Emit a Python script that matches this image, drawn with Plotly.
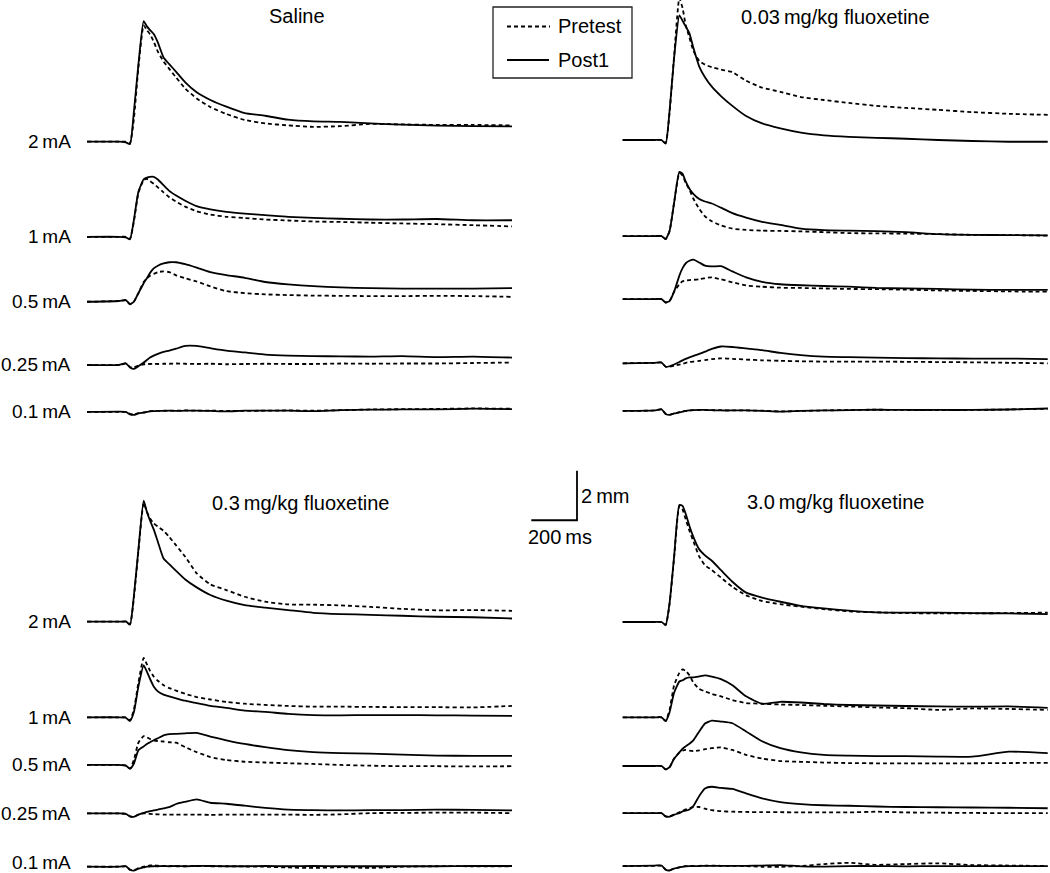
import plotly.graph_objects as go

W, H = 1050, 873

# ---- data -------------------------------------------------------------
# sample times (ms) shared by every trace
time_ms = [0, 140, 170, 188, 205, 225, 248, 262, 276, 292, 310, 335, 360, 390,
           430, 480, 540, 610, 690, 780, 880, 990, 1110, 1240, 1380, 1530, 1690, 1860]

intensities = ["2\u2009mA", "1\u2009mA", "0.5\u2009mA", "0.25\u2009mA", "0.1\u2009mA"]
conditions = ["Saline", "0.03\u2009mg/kg fluoxetine", "0.3\u2009mg/kg fluoxetine", "3.0\u2009mg/kg fluoxetine"]

# response amplitude (mm), one row per intensity (2, 1, 0.5, 0.25, 0.1 mA)
saline_pretest = [
    [0, 0, 0, -0.05, 0.9, 3.0, 4.7, 4.52, 4.35, 4.05, 3.65, 3.25, 2.95, 2.6, 2.15, 1.75, 1.4, 1.12, 0.88, 0.74, 0.66, 0.6, 0.63, 0.72, 0.70, 0.68, 0.68, 0.66],
    [0, 0, 0, -0.08, 0.6, 1.78, 2.3, 2.35, 2.25, 2.15, 2.0, 1.8, 1.6, 1.42, 1.22, 1.03, 0.9, 0.81, 0.76, 0.7, 0.66, 0.62, 0.6, 0.57, 0.54, 0.51, 0.47, 0.42],
    [0, 0.03, 0.05, -0.1, 0.0, 0.35, 0.8, 0.95, 1.05, 1.13, 1.2, 1.23, 1.2, 1.07, 0.95, 0.82, 0.62, 0.43, 0.35, 0.3, 0.27, 0.25, 0.24, 0.23, 0.23, 0.24, 0.23, 0.2],
    [0, 0, 0.05, -0.08, -0.1, -0.02, 0.03, 0.05, 0.04, 0.05, 0.04, 0.05, 0.05, 0.06, 0.05, 0.04, 0.05, 0.03, 0.04, 0.05, 0.04, 0.04, 0.06, 0.05, 0.06, 0.06, 0.08, 0.1],
    [0, 0, 0, -0.08, -0.1, -0.05, -0.02, 0.01, 0.03, 0.04, 0.04, 0.05, 0.05, 0.05, 0.06, 0.05, 0.05, 0.04, 0.04, 0.05, 0.06, 0.05, 0.07, 0.1, 0.11, 0.12, 0.14, 0.13],
]
saline_post1 = [
    [0, 0, -0.03, -0.1, 1.2, 3.13, 4.88, 4.67, 4.52, 4.36, 4.02, 3.41, 3.14, 2.83, 2.40, 2.0, 1.69, 1.42, 1.16, 1.05, 0.89, 0.82, 0.80, 0.74, 0.69, 0.65, 0.63, 0.62],
    [0, 0, -0.02, -0.1, 0.67, 1.82, 2.33, 2.4, 2.43, 2.43, 2.32, 2.09, 1.86, 1.67, 1.46, 1.24, 1.11, 1.01, 0.94, 0.88, 0.81, 0.77, 0.73, 0.70, 0.70, 0.72, 0.67, 0.67],
    [0, 0.03, 0.07, -0.1, 0.0, 0.35, 0.75, 0.95, 1.17, 1.35, 1.46, 1.55, 1.6, 1.6, 1.52, 1.38, 1.2, 1.08, 0.97, 0.8, 0.7, 0.63, 0.58, 0.55, 0.53, 0.53, 0.53, 0.55],
    [0, 0, 0.07, -0.1, -0.16, -0.05, 0.1, 0.2, 0.3, 0.38, 0.45, 0.53, 0.58, 0.66, 0.77, 0.77, 0.68, 0.58, 0.51, 0.42, 0.38, 0.36, 0.35, 0.34, 0.36, 0.32, 0.34, 0.3],
    [0, 0.01, 0.0, -0.1, -0.12, -0.06, -0.03, 0.0, 0.02, 0.03, 0.04, 0.04, 0.05, 0.04, 0.05, 0.05, 0.04, 0.02, 0.05, 0.05, 0.05, 0.03, 0.07, 0.09, 0.1, 0.1, 0.13, 0.11],
]
flx003_pretest = [
    [0, 0, 0, -0.12, 1.1, 3.4, 5.75, 5.34, 4.65, 4.15, 3.6, 3.2, 3.05, 2.95, 2.85, 2.75, 2.4, 2.12, 1.95, 1.74, 1.62, 1.5, 1.38, 1.3, 1.22, 1.13, 1.06, 1.02],
    [0, 0, 0, -0.12, 0.2, 1.35, 2.55, 2.45, 2.15, 1.88, 1.5, 1.1, 0.8, 0.6, 0.43, 0.3, 0.25, 0.22, 0.21, 0.19, 0.16, 0.12, 0.11, 0.1, 0.08, 0.05, 0.04, 0.02],
    [0, 0, 0, -0.14, -0.08, 0.3, 0.6, 0.72, 0.75, 0.77, 0.78, 0.8, 0.85, 0.88, 0.8, 0.68, 0.55, 0.5, 0.46, 0.45, 0.43, 0.41, 0.4, 0.38, 0.35, 0.33, 0.31, 0.3],
    [0, 0.02, 0.03, -0.14, -0.14, -0.1, -0.05, -0.02, 0.02, 0.05, 0.07, 0.1, 0.13, 0.17, 0.2, 0.18, 0.15, 0.12, 0.1, 0.08, 0.07, 0.07, 0.07, 0.06, 0.05, 0.04, 0.02, 0.0],
    [0, 0.02, 0.06, -0.12, -0.15, -0.1, -0.05, -0.02, 0.0, 0.02, 0.03, 0.03, 0.04, 0.03, 0.03, 0.02, 0.02, 0.01, -0.02, 0.0, 0.02, 0.04, 0.05, 0.04, 0.03, 0.04, 0.06, 0.09],
]
flx003_post1 = [
    [0, 0, 0, -0.15, 1.17, 3.33, 5.05, 4.83, 4.59, 4.32, 3.71, 2.97, 2.54, 2.16, 1.78, 1.38, 0.97, 0.67, 0.47, 0.3, 0.19, 0.13, 0.09, 0.05, 0.0, -0.04, -0.07, -0.07],
    [0, 0, 0, -0.12, 0.2, 1.35, 2.6, 2.52, 2.2, 1.92, 1.7, 1.5, 1.4, 1.32, 1.15, 0.93, 0.75, 0.58, 0.45, 0.3, 0.24, 0.22, 0.2, 0.16, 0.08, 0.05, 0.04, 0.03],
    [0, 0, 0, -0.14, -0.08, 0.3, 0.95, 1.25, 1.45, 1.55, 1.6, 1.48, 1.35, 1.32, 1.33, 1.12, 0.88, 0.7, 0.6, 0.56, 0.53, 0.5, 0.45, 0.43, 0.41, 0.38, 0.37, 0.37],
    [0, 0.02, 0.03, -0.14, -0.12, -0.05, 0.05, 0.12, 0.18, 0.24, 0.3, 0.38, 0.47, 0.58, 0.68, 0.66, 0.6, 0.53, 0.42, 0.33, 0.27, 0.25, 0.23, 0.21, 0.2, 0.19, 0.19, 0.17],
    [0, 0.02, 0.07, -0.12, -0.16, -0.1, -0.06, -0.03, 0.0, 0.02, 0.03, 0.04, 0.04, 0.03, 0.02, 0.02, 0.02, 0.0, -0.03, 0.0, 0.02, 0.03, 0.05, 0.04, 0.04, 0.04, 0.06, 0.1],
]
flx03_pretest = [
    [0, 0, 0, -0.1, 0.95, 2.85, 4.8, 4.45, 4.18, 3.98, 3.85, 3.68, 3.43, 3.09, 2.63, 1.96, 1.51, 1.28, 1.01, 0.81, 0.7, 0.69, 0.66, 0.6, 0.52, 0.46, 0.47, 0.44],
    [0, 0, 0, -0.12, 0.3, 1.4, 2.4, 2.15, 1.88, 1.65, 1.48, 1.3, 1.18, 1.08, 0.95, 0.82, 0.72, 0.62, 0.55, 0.5, 0.46, 0.43, 0.43, 0.42, 0.41, 0.41, 0.4, 0.46],
    [0, 0, -0.03, -0.15, 0.2, 0.9, 1.17, 1.12, 1.05, 1.0, 0.97, 0.95, 0.92, 0.9, 0.72, 0.52, 0.32, 0.2, 0.13, 0.1, 0.07, 0.04, 0.0, -0.03, -0.05, -0.05, -0.06, -0.05],
    [0, 0, -0.02, -0.12, -0.14, -0.05, 0.0, 0.0, -0.02, -0.03, -0.04, -0.05, -0.05, -0.05, -0.05, -0.05, -0.06, -0.05, -0.05, -0.05, -0.05, -0.06, -0.04, 0.01, 0.02, 0.03, 0.03, 0.01],
    [0, 0, 0.01, -0.12, -0.14, -0.06, 0.0, 0.03, 0.05, 0.06, 0.04, 0.03, 0.03, 0.02, 0.02, 0.03, 0.02, 0.02, 0.01, 0.0, -0.03, -0.05, -0.02, -0.05, 0.0, 0.02, 0.02, 0.02],
]
flx03_post1 = [
    [0, 0, 0.01, -0.12, 1.03, 2.93, 4.9, 4.45, 4.09, 3.74, 3.24, 2.56, 2.33, 2.06, 1.71, 1.39, 1.08, 0.85, 0.67, 0.57, 0.47, 0.36, 0.31, 0.28, 0.24, 0.2, 0.18, 0.13],
    [0, 0, -0.02, -0.15, 0.2, 1.25, 2.1, 1.85, 1.55, 1.25, 1.05, 0.92, 0.85, 0.77, 0.67, 0.57, 0.46, 0.38, 0.27, 0.22, 0.14, 0.09, 0.08, 0.09, 0.09, 0.08, 0.07, 0.06],
    [0, 0, -0.03, -0.15, 0.05, 0.6, 0.75, 0.85, 0.92, 1.0, 1.08, 1.2, 1.25, 1.26, 1.28, 1.3, 1.15, 1.0, 0.85, 0.72, 0.6, 0.52, 0.48, 0.46, 0.42, 0.38, 0.37, 0.37],
    [0, 0, -0.02, -0.12, -0.14, -0.05, 0.02, 0.06, 0.09, 0.12, 0.15, 0.2, 0.25, 0.38, 0.47, 0.57, 0.43, 0.39, 0.31, 0.22, 0.15, 0.13, 0.12, 0.13, 0.13, 0.15, 0.14, 0.12],
    [0, 0, 0.02, -0.12, -0.16, -0.08, -0.03, 0.0, 0.01, 0.02, 0.02, 0.03, 0.02, 0.03, 0.02, 0.03, 0.03, 0.02, 0.02, 0.03, 0.02, 0.03, 0.02, 0.02, 0.02, 0.02, 0.03, 0.03],
]
flx30_pretest = [
    [0, 0, 0, -0.12, 0.72, 2.6, 4.7, 4.55, 4.15, 3.7, 3.25, 2.65, 2.3, 2.1, 1.8, 1.42, 1.08, 0.85, 0.72, 0.62, 0.52, 0.43, 0.39, 0.36, 0.35, 0.35, 0.36, 0.38],
    [0, 0, 0, -0.15, 0.3, 1.3, 1.8, 1.94, 1.88, 1.7, 1.4, 1.15, 1.05, 0.95, 0.85, 0.7, 0.58, 0.55, 0.52, 0.5, 0.47, 0.44, 0.4, 0.37, 0.3, 0.36, 0.34, 0.3],
    [0, 0, 0, -0.14, -0.05, 0.3, 0.55, 0.62, 0.65, 0.62, 0.6, 0.63, 0.68, 0.72, 0.75, 0.65, 0.45, 0.3, 0.2, 0.17, 0.14, 0.12, 0.11, 0.11, 0.11, 0.11, 0.12, 0.13],
    [0, 0, 0, -0.13, -0.14, -0.06, 0.04, 0.1, 0.15, 0.2, 0.25, 0.25, 0.18, 0.12, 0.08, 0.06, 0.05, 0.04, 0.04, 0.03, 0.03, 0.03, 0.06, 0.03, 0.02, 0.01, 0.0, 0.0],
    [0, 0.01, 0.01, -0.14, -0.17, -0.1, -0.05, -0.02, 0.0, 0.0, 0.01, 0.01, 0.02, 0.02, 0.01, 0.01, 0.0, -0.03, -0.03, 0.0, 0.08, 0.13, 0.05, 0.08, 0.11, 0.04, 0.02, 0.0],
]
flx30_post1 = [
    [0, 0, 0, -0.12, 0.76, 2.65, 4.74, 4.7, 4.37, 3.89, 3.43, 2.94, 2.7, 2.48, 2.1, 1.63, 1.19, 0.99, 0.82, 0.65, 0.55, 0.46, 0.39, 0.38, 0.38, 0.36, 0.35, 0.32],
    [0, 0, 0, -0.15, 0.2, 1.0, 1.45, 1.5, 1.58, 1.62, 1.62, 1.66, 1.7, 1.65, 1.55, 1.3, 0.85, 0.55, 0.63, 0.6, 0.54, 0.5, 0.48, 0.46, 0.44, 0.43, 0.44, 0.38],
    [0, 0, 0, -0.14, -0.05, 0.3, 0.55, 0.7, 0.8, 0.9, 1.05, 1.4, 1.72, 1.84, 1.8, 1.73, 1.4, 1.0, 0.72, 0.55, 0.45, 0.42, 0.4, 0.4, 0.38, 0.38, 0.58, 0.52],
    [0, 0, 0, -0.13, -0.14, -0.06, 0.0, 0.07, 0.1, 0.15, 0.3, 0.7, 1.0, 1.07, 1.02, 0.98, 0.8, 0.6, 0.45, 0.37, 0.32, 0.3, 0.27, 0.25, 0.24, 0.23, 0.22, 0.2],
    [0, 0.02, 0.02, -0.15, -0.18, -0.1, -0.05, -0.03, -0.01, 0.0, 0.0, 0.0, 0.01, 0.01, 0.01, 0.01, 0.01, 0.02, 0.04, -0.01, -0.02, 0.0, 0.0, -0.01, 0.0, 0.0, 0.0, 0.0],
]

scale_ms = 200   # time scale bar
scale_mm = 2     # amplitude scale bar

# ---- layout (pixels) --------------------------------------------------
PX_PER_MS = 0.2285
PX_PER_MM = 24.7
FONT = "Liberation Sans, Arial, sans-serif"

# pixel box of each panel, and pixel position of t=0 / 2 mA baseline
panel_box = [(0, 0, 525, 436), (525, 0, 1050, 436), (0, 436, 525, 873), (525, 436, 1050, 873)]
panel_origin = [(87, 141.7), (622.7, 140), (87, 621.7), (622.7, 622)]
# vertical offset (mm) of each intensity row from the 2 mA baseline
row_offset = [
    [0, -3.85, -6.48, -9.04, -10.94],
    [0, -3.89, -6.44, -9.04, -10.97],
    [0, -3.87, -5.80, -7.76, -9.92],
    [0, -3.86, -5.83, -7.74, -9.88],
]
title_pos = [(297, 16), (835, 17), (300, 503), (835, 502)]

pretest = [saline_pretest, flx003_pretest, flx03_pretest, flx30_pretest]
post1 = [saline_post1, flx003_post1, flx03_post1, flx30_post1]

fig = go.Figure()
layout = dict(width=W, height=H, margin=dict(l=0, r=0, t=0, b=0),
              plot_bgcolor="white", paper_bgcolor="white", showlegend=False,
              font=dict(family=FONT, color="black"))
annotations = []

for p in range(4):
    x0p, y0p, x1p, y1p = panel_box[p]
    ox, oy = panel_origin[p]
    sfx = "" if p == 0 else str(p + 1)
    layout["xaxis" + sfx] = dict(domain=[x0p / W, x1p / W],
                                 range=[(x0p - ox) / PX_PER_MS, (x1p - ox) / PX_PER_MS],
                                 visible=False, anchor="y" + sfx, fixedrange=True)
    layout["yaxis" + sfx] = dict(domain=[1 - y1p / H, 1 - y0p / H],
                                 range=[(oy - y1p) / PX_PER_MM, (oy - y0p) / PX_PER_MM],
                                 visible=False, anchor="x" + sfx, fixedrange=True)
    for r in range(5):
        off = row_offset[p][r]
        for vals, dash in ((pretest[p][r], "4px,3px"), (post1[p][r], "solid")):
            fig.add_trace(go.Scatter(
                x=time_ms, y=[v + off for v in vals],
                xaxis="x" + sfx, yaxis="y" + sfx, mode="lines",
                line=dict(color="black", width=1.8, dash=dash, shape="spline", smoothing=0.5),
                hoverinfo="skip"))
        if p in (0, 2):
            # the lowest label of the bottom panel sits at the page edge; lift it a little
            lift = 4 if (p == 2 and r == 4) else 0
            annotations.append(dict(x=73 / W, xref="paper", y=off, yref="y" + sfx,
                                    text=intensities[r], showarrow=False, yshift=lift,
                                    xanchor="right", yanchor="middle", font=dict(size=19)))
    tx, ty = title_pos[p]
    annotations.append(dict(x=tx / W, y=1 - ty / H, xref="paper", yref="paper",
                            text=conditions[p], showarrow=False,
                            xanchor="center", yanchor="middle", font=dict(size=20)))

# scale bar in the bottom-right panel
bar_t0 = -400
bar_y = 4.12
fig.add_trace(go.Scatter(
    x=[bar_t0, bar_t0 + scale_ms, bar_t0 + scale_ms],
    y=[bar_y, bar_y, bar_y + scale_mm],
    xaxis="x4", yaxis="y4", mode="lines",
    line=dict(color="black", width=1.8), hoverinfo="skip"))
annotations.append(dict(x=bar_t0 + scale_ms, y=bar_y + scale_mm / 2, xref="x4", yref="y4",
                        text=f"{scale_mm}\u2009mm", showarrow=False, xanchor="left",
                        yanchor="middle", xshift=2, font=dict(size=20)))
annotations.append(dict(x=bar_t0, y=bar_y, xref="x4", yref="y4",
                        text=f"{scale_ms}\u2009ms", showarrow=False, xanchor="left",
                        yanchor="top", xshift=-5, yshift=-4, font=dict(size=20)))

# legend box
shapes = [
    dict(type="rect", xref="paper", yref="paper", x0=493 / W, x1=632 / W,
         y0=1 - 78 / H, y1=1 - 7 / H, line=dict(color="#222", width=1.3)),
    dict(type="line", xref="paper", yref="paper", x0=507 / W, x1=550 / W,
         y0=1 - 26.5 / H, y1=1 - 26.5 / H, line=dict(color="black", width=1.8, dash="4px,3px")),
    dict(type="line", xref="paper", yref="paper", x0=507 / W, x1=549 / W,
         y0=1 - 60 / H, y1=1 - 60 / H, line=dict(color="black", width=1.8)),
]
for label, yy in (("Pretest", 26), ("Post1", 60)):
    annotations.append(dict(x=556 / W, y=1 - yy / H, xref="paper", yref="paper", text=label,
                            showarrow=False, xanchor="left", yanchor="middle", font=dict(size=20)))

layout["annotations"] = annotations
layout["shapes"] = shapes
fig.update_layout(**layout)

# drop the default page margin so the figure sits at the window's corner
fig.write_html("out.html", config={"displayModeBar": False},
               post_script="document.body.style.margin='0';")
